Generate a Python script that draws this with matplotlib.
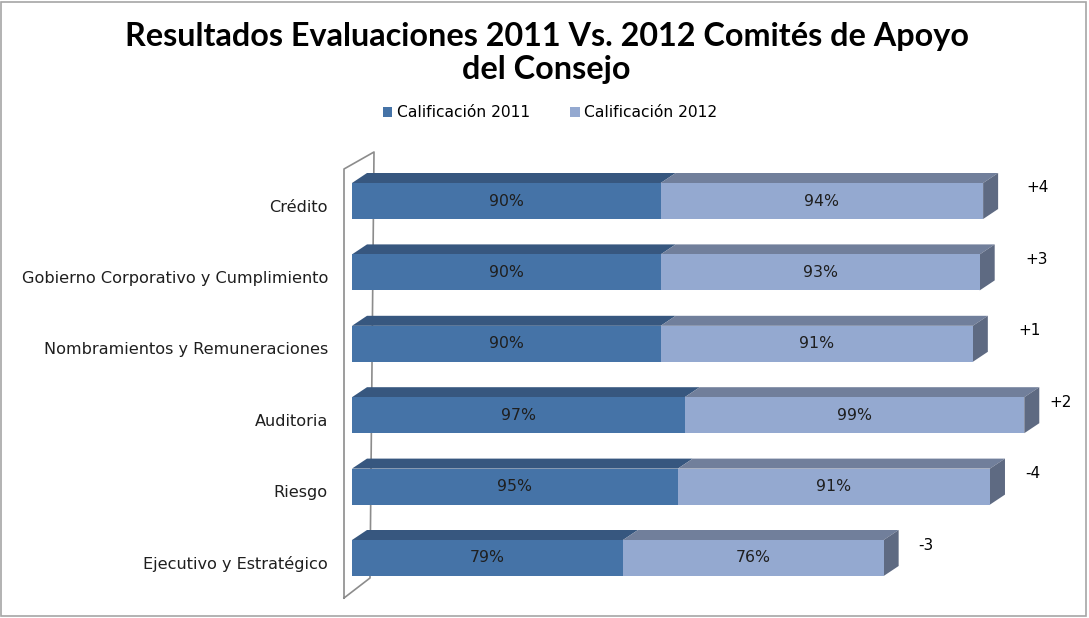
import matplotlib.pyplot as plt
from matplotlib.patches import Polygon, Rectangle
import numpy as np

categorias = ["Crédito", "Gobierno Corporativo y Cumplimiento",
              "Nombramientos y Remuneraciones", "Auditoria", "Riesgo",
              "Ejecutivo y Estratégico"]
calif_2011 = [90, 90, 90, 97, 95, 79]
calif_2012 = [94, 93, 91, 99, 91, 76]
series = ["Calificación 2011", "Calificación 2012"]
titulo = "Resultados Evaluaciones 2011 Vs. 2012 Comités de Apoyo\ndel Consejo"

# colores (frente, arriba, lado)
c11 = ("#4573A7", "#37577F", "#2F4A6E")
c12 = ("#94A9D0", "#717F9B", "#5E6A82")

W, H = 1089, 618
fig = plt.figure(figsize=(W / 100, H / 100), dpi=100)
fig.patch.set_facecolor("white")

# borde del area del grafico
fig.add_artist(Rectangle((1 / W, 2 / H), 1085 / W, 614 / H, transform=fig.transFigure,
                         fill=False, edgecolor="#A6A6A6", lw=1.2))

# ejes: x en %, 3.43 px por unidad, empieza en px 352
px_x = 3.43
ax_l, ax_r = 352, 1085
ax_top, ax_bot = 140, 612
pitch = 71.4
y0 = 201
ax = fig.add_axes([ax_l / W, (H - ax_bot) / H, (ax_r - ax_l) / W, (ax_bot - ax_top) / H])
ax.set_xlim(0, (ax_r - ax_l) / px_x)
ax.set_ylim((ax_bot - y0) / pitch, (ax_top - y0) / pitch)
ax.axis("off")

h = 36 / pitch
dx = 15 / px_x
dy = -10 / pitch

y = np.arange(len(categorias))
a = np.array(calif_2011)
b = np.array(calif_2012)

# pared de fondo
wx0, wx1 = (344 - 352) / px_x, (374 - 352) / px_x
wy_top0, wy_top1 = (169 - y0) / pitch, (152 - y0) / pitch
wy_bot0, wy_bot1 = (598 - y0) / pitch, (578 - y0) / pitch
ax.plot([wx0, wx0, wx1, wx1 - 4 / px_x, wx0],
        [wy_bot0, wy_top0, wy_top1, wy_bot1, wy_bot0],
        color="#8C8C8C", lw=1.2, clip_on=False, zorder=1)

for i in range(len(categorias)):
    top = y[i] - h / 2
    # cara superior
    ax.add_patch(Polygon([(0, top), (a[i], top), (a[i] + dx, top + dy), (dx, top + dy)],
                         closed=True, facecolor=c11[1], edgecolor="none", zorder=2))
    ax.add_patch(Polygon([(a[i], top), (a[i] + b[i], top), (a[i] + b[i] + dx, top + dy),
                          (a[i] + dx, top + dy)],
                         closed=True, facecolor=c12[1], edgecolor="none", zorder=2))
    # cara lateral
    e = a[i] + b[i]
    ax.add_patch(Polygon([(e, top), (e + dx, top + dy), (e + dx, top + h + dy), (e, top + h)],
                         closed=True, facecolor=c12[2], edgecolor="none", zorder=2))

ax.barh(y, a, height=h, color=c11[0], edgecolor="none", zorder=3, label=series[0])
ax.barh(y, b, left=a, height=h, color=c12[0], edgecolor="none", zorder=3, label=series[1])

for i in range(len(categorias)):
    ax.text(a[i] / 2, y[i], f"{a[i]}%", ha="center", va="center",
            fontsize=11.3, color="#1F1F1F", zorder=4)
    ax.text(a[i] + b[i] / 2, y[i], f"{b[i]}%", ha="center", va="center",
            fontsize=11.3, color="#1F1F1F", zorder=4)
    ax.text(-7, y[i] + 6 / pitch, categorias[i], ha="right", va="center",
            fontsize=11.6, color="#1F1F1F", clip_on=False)

# diferencias
dif_dx = [28, 31, 31, 10, 20, 20]
for i in range(len(categorias)):
    d = b[i] - a[i]
    ax.annotate(f"{d:+d}", xy=(a[i] + b[i] + dx, y[i] - h / 2 + 5 / pitch),
                xytext=(dif_dx[i] * 0.72, 0), textcoords="offset points",
                ha="left", va="center", fontsize=11, color="black")

fig.text(0.502, 1 - 53 / H, titulo, ha="center", va="center", fontsize=23.3,
         fontweight="bold", family="Lato", linespacing=1.2)

fig.legend(loc="center", bbox_to_anchor=(550 / W, 1 - 113 / H), ncol=2, frameon=False,
           fontsize=11.2, handlelength=0.6, handleheight=0.6, handletextpad=0.3,
           columnspacing=2.6)

fig.savefig("out.png", dpi=100)
